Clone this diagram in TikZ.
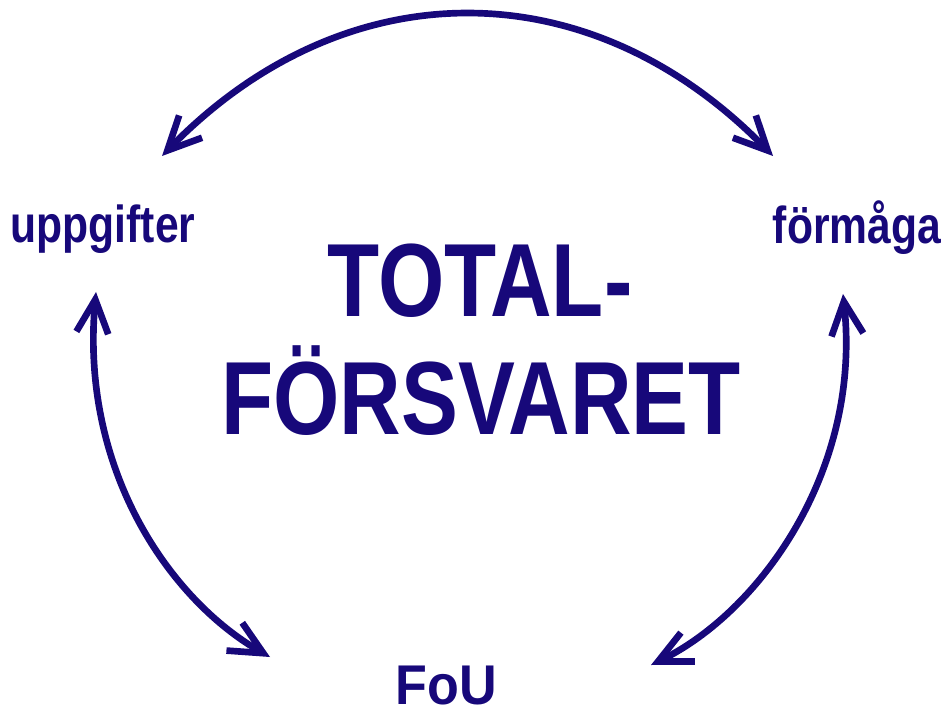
\documentclass[tikz,border=0pt]{standalone}
\usepackage{fontspec}
\setmainfont{Liberation Sans}[FakeStretch=0.82]
\newfontfamily\fouwide{Liberation Sans}[FakeStretch=0.93]
\usetikzlibrary{arrows.meta, positioning}
\usepackage{xcolor}
\definecolor{FoaBlue}{HTML}{17087A}

\begin{document}
\begin{tikzpicture}[x=0.75pt, y=-0.75pt]
    \tikzstyle{word} = [text=FoaBlue, font=\bfseries, inner sep=0pt, anchor=base]
    \tikzstyle{cycle} = [draw=FoaBlue, line width=5pt, {Straight Barb[length=25pt, width=24pt]}-{Straight Barb[length=25pt, width=24pt]}]

    \useasboundingbox (0,0) rectangle (945,712);

    % center title
    \node [word, font=\bfseries\fontsize{78}{88}\selectfont] (total) at (480,317) {TOTAL-};
    \node [word, font=\bfseries\fontsize{78}{88}\selectfont] (forsvaret) at (481,435) {FÖRSVARET};

    % the three corners
    \node [word, font=\bfseries\fontsize{39}{44}\selectfont] (uppg) at (103,243) {uppgifter};
    \node [word, font=\bfseries\fontsize{39}{44}\selectfont] (form) at (857,244) {förmåga};
    \node [word, font=\fouwide\bfseries\fontsize{42}{48}\selectfont] (fou) at (446,704) {FoU};

    % arc ends
    \coordinate (uppgTop) at (162,156);
    \coordinate (formTop) at (773,156);
    \coordinate (uppgLow) at (96,292);
    \coordinate (fouLeft) at (270,657);
    \coordinate (formLow) at (843,294);
    \coordinate (fouRight) at (651,665);

    \draw [cycle] (uppgTop) .. controls (345,-32) and (590,-32) .. (formTop);
    \draw [cycle] (uppgLow) .. controls (80,470) and (170,600) .. (fouLeft);
    \draw [cycle] (formLow) .. controls (862,470) and (760,612) .. (fouRight);
\end{tikzpicture}
\end{document}
